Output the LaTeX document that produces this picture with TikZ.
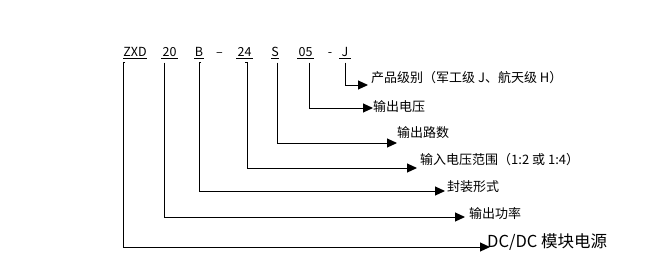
\documentclass[tikz,border=0pt]{standalone}
\usepackage{fontspec}
\setmainfont{Noto Sans CJK SC}
\usetikzlibrary{arrows.meta}
\begin{document}
\begin{tikzpicture}[x=1pt,y=-1pt,
  code/.style={inner sep=0pt, font=\fontsize{12.5}{13}\selectfont, anchor=base},
  lab/.style={inner sep=0pt, font=\fontsize{13}{14}\selectfont, anchor=west},
  conn/.style={line width=1pt, -{Triangle[length=10pt,width=9pt]}},
  uline/.style={line width=1pt}]
\useasboundingbox[fill=white] (0,0) rectangle (655,269);
% top code
\node[code] (zxd) at (135,56) {ZXD};
\node[code] (p20) at (169.5,56) {20};
\node[code] (pb) at (199,56) {B};
\node[code] (d1) at (219.5,56) {–};
\node[code] (p24) at (244.5,56) {24};
\node[code] (ps) at (275,56) {S};
\node[code] (p05) at (305.5,56) {05};
\node[code] (d2) at (330,56) {-};
\node[code] (pj) at (345,56) {J};
% underlines
\draw[uline] (123,58.5) -- (147,58.5);
\draw[uline] (161,58.5) -- (178,58.5);
\draw[uline] (194,58.5) -- (204,58.5);
\draw[uline] (236,58.5) -- (253,58.5);
\draw[uline] (271,58.5) -- (279,58.5);
\draw[uline] (297,58.5) -- (314,58.5);
\draw[uline] (339,58.5) -- (351,58.5);
% arrow tips
\coordinate (tj) at (368,85);
\coordinate (t05) at (373,108);
\coordinate (ts) at (397,143);
\coordinate (t24) at (417,168);
\coordinate (tb) at (445,191);
\coordinate (t20) at (465,217);
\coordinate (tzxd) at (490,247);
% labels
\node[lab] (lj) at (371,78) {产品级别（军工级 J、航天级 H）};
\node[lab] (l05) at (373,107) {输出电压};
\node[lab] (ls) at (397,133) {输出路数};
\node[lab] (l24) at (420,160) {输入电压范围（1:2 或 1:4）};
\node[lab] (lb) at (447,187) {封装形式};
\node[lab] (l20) at (469,214) {输出功率};
\node[lab, font=\fontsize{16.5}{18}\selectfont] (lzxd) at (487,242) {DC/DC 模块电源};
% connectors
\draw[conn] (zxd.south west |- 0,62.5) ++(2,0) -- ++(-2,0) |- (tzxd);
\draw[conn] (p20.south |- 0,62.5) ++(-5.5,0) |- (t20);
\draw[conn] (pb.south |- 0,62.5) ++(2,0) -- ++(-2,0) |- (tb);
\draw[conn] (p24.south |- 0,62.5) ++(0.5,0) -- ++(2,0) |- (t24);
\draw[conn] (ps.south |- 0,62.5) ++(2,0) |- (ts);
\draw[conn] (p05.south |- 0,62.5) ++(3.5,0) |- (t05);
\draw[conn] (pj.south |- 0,62.5) |- (tj);
\end{tikzpicture}
\end{document}
